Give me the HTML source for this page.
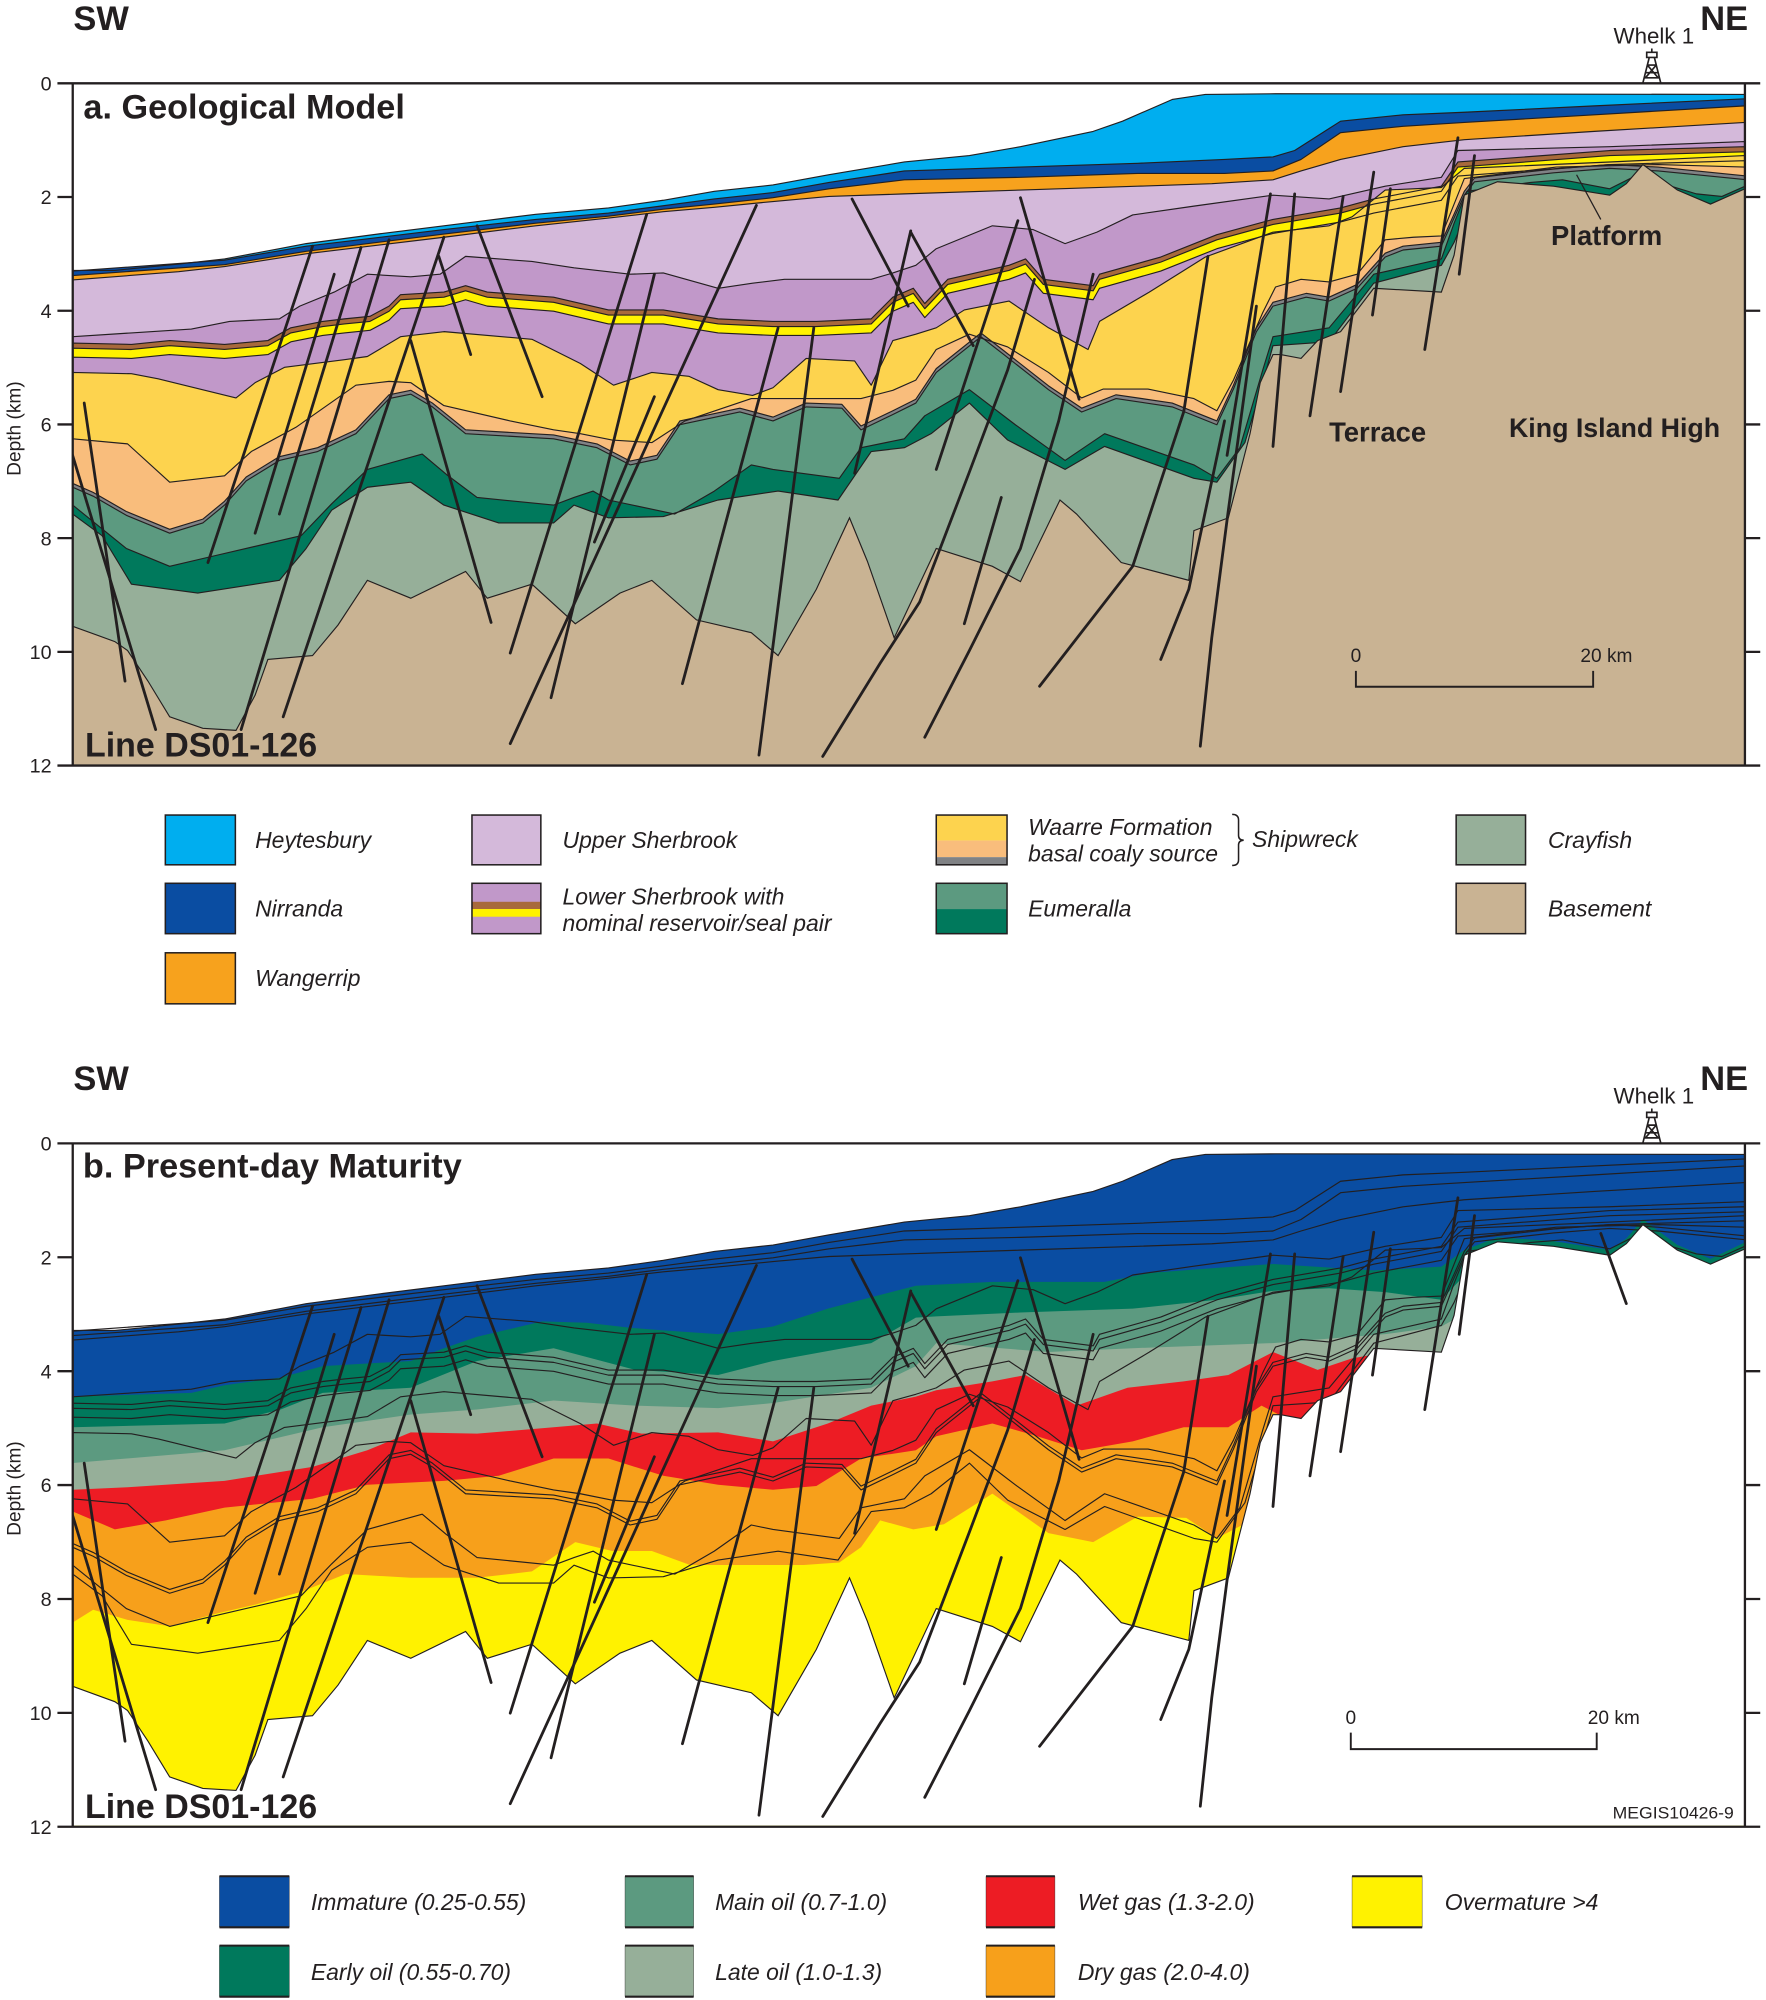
<!DOCTYPE html>
<html>
<head>
<meta charset="utf-8">
<style>
html,body{margin:0;padding:0;background:#fff;}
svg{display:block;}
.t{font-family:"Liberation Sans",Arial,sans-serif;fill:#231f20;}
.b{font-weight:bold;}
.i{font-style:italic;}
</style>
</head>
<body>
<svg xmlns="http://www.w3.org/2000/svg" width="1766" height="2000" viewBox="0 0 1384.5 1568">
<defs>
<clipPath id="clipA"><rect x="57" y="65.3" width="1311" height="534.9"/></clipPath>
<clipPath id="clipB"><rect x="57" y="896.4" width="1311" height="535.8"/></clipPath>
<path id="s0" d="M57,600.2 L57,212 L90,212 L110,210 L140,207 L176,203 L219,195 L240,191 L300,183 L348,177 L380,173 L420,168 L477,163 L520,157 L560,150 L606,145 L650,137 L709,127 L760,122 L800,115 L857,103 L880,95 L919,78 L945,74 L1000,73.5 L1368,74 L1368,600.2"/>
<path id="s1" d="M57,600.2 L57,212.5 L176,204 L240,193 L348,180 L420,172 L477,167 L560,156 L606,151 L650,143 L709,134 L800,131 L892,128 L960,125 L998,123 L1015,118 L1051,95 L1100,90 L1148,88 L1250,83 L1368,77.5 L1368,600.2"/>
<path id="s2" d="M57,600.2 L57,216 L176,207.5 L240,197 L348,183.5 L420,175 L477,169.5 L520,164 L560,160 L606,155 L650,148 L709,141 L800,139 L892,136 L960,136 L998,134 L1020,125 L1051,104 L1100,99 L1148,96 L1250,90 L1368,83 L1368,600.2"/>
<path id="s3" d="M57,600.2 L57,219.5 L140,213 L176,209 L240,199 L348,186 L420,177 L477,171 L520,166 L560,162.5 L606,158 L650,154 L709,152 L800,149 L892,146 L950,144 L998,141 L1020,134 L1051,125 L1100,115 L1148,109.5 L1250,103 L1368,96 L1368,600.2"/>
<path id="s4" d="M57,600.2 L57,264 L103,261 L150,258 L180,252 L219,250 L235,240 L262,229 L288,215 L322,217 L345,215 L365,201 L417,205 L450,210 L494,215 L520,214 L563,226 L590,222 L615,219 L683,219 L700,214 L718,208 L734,195 L778,177 L810,180 L835,191 L860,182 L888,168.5 L936,161.6 L998,153 L1042,156 L1086,146 L1130,139 L1143,118 L1262,115 L1368,111 L1368,600.2"/>
<path id="s5" d="M57,600.2 L57,269 L103,270 L133,267 L176,270 L210,267 L228,257 L253,252 L270,250 L290,248 L305,240 L314,231 L348,229 L365,224 L382,229 L434,233 L477,243 L520,243 L563,250 L606,252 L640,252 L683,250 L700,233 L716,226 L725,238 L743,219 L791,208 L804,203 L818,219 L857,224 L862,215 L910,201.5 L954,184 L998,172 L1051,163 L1077,156 L1130,146 L1143,127 L1262,118 L1368,115 L1368,600.2"/>
<path id="s6" d="M57,600.2 L57,292 L103,293 L124,297 L185,312 L200,300 L223,288 L270,282 L288,279.5 L314,264 L348,260 L417,266 L455,285 L481,302 L511,292 L540,295 L563,305.5 L590,310 L606,304 L632,281 L670,283 L683,302 L700,267 L718,262 L734,257 L756,243 L791,236 L822,257 L853,274 L862,252 L901,229 L945,201.5 L998,182 L1042,177 L1060,170 L1086,149 L1130,147 L1148,132 L1262,127 L1368,122 L1368,600.2"/>
<path id="s7" d="M57,600.2 L57,344 L100,348 L133,378 L176,373 L197,354 L232,335 L279,302 L305,299 L322,300 L348,318 L400,330 L434,337 L455,340 L480,345 L511,347 L537,330 L589,312.5 L640,312.5 L675,312.5 L700,306 L718,298 L734,274 L760,262 L790,272 L822,292 L848,312 L865,305 L900,305 L936,312.5 L954,322 L967,298 L990,245 L1000,225 L1020,219 L1042,221 L1064,215 L1086,188 L1108,186 L1130,185 L1148,140 L1220,131 L1300,129 L1368,131 L1368,600.2"/>
<path id="s9" d="M57,600.2 L57,382 L73,389 L99,404 L133,418 L159,410 L176,396 L193,377 L219,361 L249,354 L279,340 L305,312.5 L322,309 L339,319 L365,340 L434,344 L468,351 L494,364.5 L515,360 L533,333 L580,323 L606,330 L632,319 L660,320 L675,337 L700,325 L718,316 L734,292 L769,264 L787,278 L822,305.5 L848,323 L875,312.5 L919,319 L954,333 L967,305 L985,260 L998,240 L1024,233 L1042,236 L1064,226 L1086,201.5 L1100,196 L1130,193 L1148,153 L1156,142.5 L1218,135.5 L1262,132 L1300,134 L1368,140.8 L1368,600.2"/>
<path id="s10" d="M57,600.2 L57,396 L99,430 L133,444 L167,436 L236,420 L260,395 L288,368 L331,356 L350,372 L374,390 L434,396 L450,390 L465,385 L477,392 L529,403 L560,385 L589,364.5 L606,368 L658,375 L675,351 L709,344 L725,326 L760,305.5 L796,333 L835,361 L866,340 L936,364.5 L954,375 L972,351 L990,290 L998,264 L1042,257 L1077,215 L1130,203 L1140,175 L1150,150 L1200,143 L1225,141 L1262,148 L1280,139 L1290,132 L1310,146 L1330,152 L1350,154 L1368,146 L1368,600.2"/>
<path id="s11" d="M57,600.2 L57,403 L80,420 L103,458 L155,465 L219,455 L240,430 L260,400 L288,382 L322,378 L348,396 L391,410 L434,410 L450,396 L477,406 L520,405 L563,392 L610,385 L657,392 L683,354 L709,351 L730,340 L760,316 L790,345 L835,368 L866,350 L936,375 L954,378 L976,347 L990,300 L998,271 L1042,268 L1077,222 L1130,208 L1140,190 L1150,166 L1368,166 L1368,600.2"/>
<path id="s12" d="M57,600.2 L57,491 L90,503 L100,510 L116,534 L133,562 L159,571 L185,572.6 L200,545 L210,517 L245,514 L265,490 L288,455 L322,469 L365,448 L382,469 L417,458 L451,489 L486,465 L511,455 L546,486 L589,496 L610,514 L640,462 L666,406 L680,440 L701,500 L703,496 L734,430 L778,444 L800,456 L831,392 L844,403 L866,427 L879,441 L932,455 L936,416 L963,406 L980,340 L988,300 L998,278 L1004,278 L1020,281 L1033,267 L1051,260 L1077,226 L1130,229 L1140,200 L1148,153 L1174,142.5 L1218,146 L1262,153 L1275,144 L1288,129 L1315,149 L1341,160 L1368,148 L1368,600.2"/>
<g id="horiz" fill="none" stroke="#231f20" stroke-width="0.9" stroke-linejoin="round">
<use href="#s0"/><use href="#s1"/><use href="#s2"/><use href="#s3"/><use href="#s4"/>
<use href="#s5"/><use href="#s5" transform="translate(0,4)"/><use href="#s5" transform="translate(0,11)"/>
<use href="#s6"/><use href="#s7"/><use href="#s9" transform="translate(0,-3)"/><use href="#s9"/><use href="#s10"/><use href="#s11"/>
</g>
<g id="faults" fill="none" stroke="#231f20" stroke-width="2.2" stroke-linecap="round" stroke-linejoin="round">
<path d="M66,316 L98,534"/>
<path d="M56,354 L122,572"/>
<path d="M245,193 L163,441"/>
<path d="M262,215 L200,418"/>
<path d="M283,194 L219,403"/>
<path d="M305,188 L189,572"/>
<path d="M348,186 L222,562"/>
<path d="M344,201 L369,278"/>
<path d="M374,177 L425,311"/>
<path d="M322,267 L385,488"/>
<path d="M507,168 L400,512"/>
<path d="M513,215 L432,547"/>
<path d="M513,311 L466,425"/>
<path d="M593,161 L400,583"/>
<path d="M610,257 L535,536"/>
<path d="M638,257 L595,592"/>
<path d="M668,156 L712,240"/>
<path d="M714,181 L670,371"/>
<path d="M714,182 L763,271"/>
<path d="M798,173 L734,368"/>
<path d="M800,155 L846,313"/>
<path d="M811,219 L790,290 L760,370 L721,472 L690,520 L645,593"/>
<path d="M857,215 L830,330 L800,430 L760,510 L725,578"/>
<path d="M785,390 L756,489"/>
<path d="M947,201 L928,323 L888,444 L815,538"/>
<path d="M960,330 L932,462 L910,517"/>
<path d="M996,152 L962,357"/>
<path d="M1015,152 L998,350"/>
<path d="M985,240 L963,400 L950,500 L941,585"/>
<path d="M1053,154 L1027,326"/>
<path d="M1077,135 L1051,307"/>
<path d="M1090,148 L1076,247"/>
<path d="M1143,108 L1117,274"/>
<path d="M1156,122 L1144,215"/>
</g>
<g id="derrick" fill="none" stroke="#231f20" stroke-width="1.3">
<path d="M1288,65 L1293,45 M1302,65 L1297,45 M1291,45 H1299 V41 H1291 Z M1290,57 H1300 M1289.5,61 H1300.5 M1291.5,51 H1298.5 M1291.5,51 L1300,61 M1298.5,51 L1290,61 M1295,41 V38"/>
</g>
</defs>

<rect x="0" y="0" width="1384.5" height="1568" fill="#fff"/>

<!-- ========== PANEL A ========== -->
<g clip-path="url(#clipA)">
<use href="#s0" fill="#00aeef"/>
<use href="#s1" fill="#0a4da2"/>
<use href="#s2" fill="#f7a21d"/>
<use href="#s3" fill="#d4b9da"/>
<use href="#s4" fill="#c198c9"/>
<use href="#s5" fill="#a8693c"/>
<use href="#s5" fill="#fff200" transform="translate(0,4)"/>
<use href="#s5" fill="#c198c9" transform="translate(0,11)"/>
<use href="#s6" fill="#fdd34e"/>
<use href="#s7" fill="#f9bd7c"/>
<use href="#s9" fill="#808285" transform="translate(0,-3)"/>
<use href="#s9" fill="#5c9a80"/>
<use href="#s10" fill="#00795c"/>
<use href="#s11" fill="#96af99"/>
<use href="#horiz"/>
<use href="#s12" fill="#c9b393" stroke="#231f20" stroke-width="0.9"/>
<use href="#faults"/>
<path d="M1236,137 L1255,172" stroke="#231f20" stroke-width="1" fill="none"/>
</g>

<!-- ========== PANEL B ========== -->
<g clip-path="url(#clipB)">
<use href="#s0" fill="#0a4da2" transform="translate(0,831.1)"/>
<path fill="#00795c" d="M57,1095 L150,1092 L176,1086 L220,1080 L253,1071 L322,1067 L348,1057 L374,1048 L425,1036 L460,1037 L494,1041 L520,1043 L563,1046 L606,1040 L649,1026 L683,1017 L718,1008 L778,1005 L866,1005 L901,998 L954,994 L998,991 L1077,996 L1130,993 L1148,980 L1174,970 L1218,973 L1262,980 L1275,971 L1288,956 L1315,976 L1341,987 L1368,974 L1368,1433 L57,1433 Z"/>
<path fill="#5c9a80" d="M57,1119 L176,1116 L220,1105 L253,1092 L322,1088 L374,1067 L434,1057 L498,1074 L563,1078 L606,1067 L683,1053 L718,1033 L734,1032 L800,1029 L888,1026 L954,1019 L998,1012 L1042,1010 L1086,1013 L1130,1019 L1148,1000 L1368,1000 L1368,1433 L57,1433 Z"/>
<path fill="#96af99" d="M57,1147 L176,1137 L253,1119 L322,1109 L374,1105 L434,1098 L498,1102 L563,1104 L606,1100 L683,1088 L718,1071 L734,1053 L822,1060 L888,1057 L998,1053 L1086,1046 L1130,1040 L1148,1030 L1368,1030 L1368,1433 L57,1433 Z"/>
<path fill="#ed1c24" d="M57,1168 L100,1166 L176,1161 L245,1150 L288,1137 L322,1123 L374,1124 L434,1119 L468,1116 L503,1124 L563,1123 L606,1130 L649,1116 L683,1102 L718,1095 L734,1090 L778,1083 L804,1078 L844,1102 L884,1088 L928,1083 L963,1078 L998,1060 L1033,1074 L1060,1065 L1077,1062 L1090,1080 L1368,1080 L1368,1433 L57,1433 Z"/>
<path fill="#f7a01b" d="M57,1185 L90,1199 L130,1192 L176,1182 L245,1175 L288,1164 L348,1161 L391,1157 L434,1143.5 L477,1143.5 L520,1157 L563,1164 L606,1168 L640,1165 L675,1143.5 L718,1137 L734,1126 L778,1116 L810,1125 L848,1137 L888,1130 L928,1119 L963,1119 L989,1102 L1016,1116 L1040,1108 L1055,1098 L1080,1110 L1368,1110 L1368,1433 L57,1433 Z"/>
<path fill="#fff200" d="M57,1272 L73,1262 L100,1270 L133,1275 L170,1265 L200,1258 L236,1248 L271,1234 L322,1237 L374,1237 L417,1232 L451,1209 L480,1216 L511,1216 L541,1227 L589,1227 L630,1227 L658,1225 L675,1213 L690,1192 L716,1199 L740,1195 L778,1171 L822,1202 L857,1209 L892,1189 L930,1190 L954,1206 L975,1195 L990,1180 L1010,1200 L1368,1200 L1368,1433 L57,1433 Z"/>
<use href="#horiz" transform="translate(0,831.1)"/>
<use href="#s12" fill="#fff" stroke="#231f20" stroke-width="0.9" transform="translate(0,831.1)"/>
<use href="#faults" transform="translate(0,831.1)"/>
<path d="M1255,967 L1275,1022" stroke="#231f20" stroke-width="2.2" stroke-linecap="round" fill="none"/>
</g>

<!-- ========== FRAMES & TICKS ========== -->
<g fill="none" stroke="#231f20" stroke-width="1.8">
<path d="M45,65.3 H1380 M57,65.3 V600.2 M1368,65.3 V600.2 M45,600.2 H1380"/>
<path d="M45,154.45 H57 M45,243.6 H57 M45,332.75 H57 M45,421.9 H57 M45,511.05 H57"/>
<path d="M1368,154.45 H1380 M1368,243.6 H1380 M1368,332.75 H1380 M1368,421.9 H1380 M1368,511.05 H1380"/>
<path d="M45,896.4 H1380 M57,896.4 V1432.2 M1368,896.4 V1432.2 M45,1432.2 H1380"/>
<path d="M45,985.7 H57 M45,1075 H57 M45,1164.3 H57 M45,1253.6 H57 M45,1342.9 H57"/>
<path d="M1368,985.7 H1380 M1368,1075 H1380 M1368,1164.3 H1380 M1368,1253.6 H1380 M1368,1342.9 H1380"/>
</g>

<g class="t" font-size="15.5" text-anchor="end">
<text x="40.5" y="70.9">0</text>
<text x="40.5" y="160">2</text>
<text x="40.5" y="249.2">4</text>
<text x="40.5" y="338.3">6</text>
<text x="40.5" y="427.5">8</text>
<text x="40.5" y="516.6">10</text>
<text x="40.5" y="605.8">12</text>
<text x="40.5" y="902">0</text>
<text x="40.5" y="991.3">2</text>
<text x="40.5" y="1080.6">4</text>
<text x="40.5" y="1169.9">6</text>
<text x="40.5" y="1259.2">8</text>
<text x="40.5" y="1348.5">10</text>
<text x="40.5" y="1437.8">12</text>
</g>
<text class="t" font-size="15" text-anchor="middle" transform="translate(16,336) rotate(-90)">Depth (km)</text>
<text class="t" font-size="15" text-anchor="middle" transform="translate(16,1167) rotate(-90)">Depth (km)</text>

<!-- headers -->
<text class="t b" x="57.5" y="23.5" font-size="27">SW</text>
<text class="t b" x="1333" y="23.5" font-size="27">NE</text>
<text class="t" x="1265" y="34" font-size="17.5">Whelk 1</text>
<use href="#derrick"/>
<text class="t b" x="57.5" y="854.6" font-size="27">SW</text>
<text class="t b" x="1333" y="854.6" font-size="27">NE</text>
<text class="t" x="1265" y="865" font-size="17.5">Whelk 1</text>
<use href="#derrick" transform="translate(0,831.1)"/>

<!-- titles -->
<text class="t b" x="65.4" y="93" font-size="27" textLength="252" lengthAdjust="spacingAndGlyphs">a. Geological Model</text>
<text class="t b" x="65" y="923" font-size="27" textLength="297" lengthAdjust="spacingAndGlyphs">b. Present-day Maturity</text>
<text class="t b" x="66.6" y="593" font-size="27" textLength="182" lengthAdjust="spacingAndGlyphs">Line DS01-126</text>
<text class="t b" x="66.6" y="1425.5" font-size="27" textLength="182" lengthAdjust="spacingAndGlyphs">Line DS01-126</text>

<!-- panel a labels -->
<text class="t b" x="1216" y="192" font-size="21.5">Platform</text>
<text class="t b" x="1042" y="346" font-size="21.5">Terrace</text>
<text class="t b" x="1183" y="342.5" font-size="21">King Island High</text>

<!-- scale bars -->
<text class="t" x="1063" y="519" font-size="15" text-anchor="middle">0</text>
<text class="t" x="1239" y="519" font-size="15">20 km</text>
<path d="M1063,526 V538.4 H1249 V526" fill="none" stroke="#231f20" stroke-width="1.5"/>
<text class="t" x="1059" y="1351.6" font-size="15" text-anchor="middle">0</text>
<text class="t" x="1244.8" y="1351.6" font-size="15">20 km</text>
<path d="M1059,1358.4 V1371.3 H1251.8 V1358.4" fill="none" stroke="#231f20" stroke-width="1.5"/>
<text class="t" x="1264.3" y="1425.6" font-size="13" textLength="95" lengthAdjust="spacingAndGlyphs">MEGIS10426-9</text>

<!-- ========== LEGEND A ========== -->
<g stroke="#231f20" stroke-width="1.2">
<rect x="129.6" y="639" width="54.9" height="39" fill="#00aeef"/>
<rect x="129.6" y="692.5" width="54.9" height="39.5" fill="#0a4da2"/>
<rect x="129.6" y="747" width="54.9" height="40" fill="#f7a21d"/>
<rect x="370" y="639" width="54" height="39" fill="#d4b9da"/>
</g>
<rect x="370" y="692.5" width="54" height="39.5" fill="#c198c9"/>
<rect x="370" y="707" width="54" height="5.7" fill="#a8693c"/>
<rect x="370" y="712.7" width="54" height="6" fill="#fff200"/>
<rect x="370" y="692.5" width="54" height="39.5" fill="none" stroke="#231f20" stroke-width="1.2"/>
<rect x="734" y="639" width="55.5" height="20" fill="#fdd34e"/>
<rect x="734" y="659" width="55.5" height="13" fill="#f9bd7c"/>
<rect x="734" y="672" width="55.5" height="6" fill="#808285"/>
<rect x="734" y="639" width="55.5" height="39" fill="none" stroke="#231f20" stroke-width="1.2"/>
<rect x="734" y="692.5" width="55.5" height="20.2" fill="#5c9a80"/>
<rect x="734" y="712.7" width="55.5" height="19.3" fill="#00795c"/>
<rect x="734" y="692.5" width="55.5" height="39.5" fill="none" stroke="#231f20" stroke-width="1.2"/>
<g stroke="#231f20" stroke-width="1.2">
<rect x="1141.6" y="639" width="54.4" height="39" fill="#96af99"/>
<rect x="1141.6" y="692.5" width="54.4" height="39.5" fill="#c9b393"/>
</g>
<path d="M966,638.5 Q971,638.5 971,643 L971,655 Q971,658.5 975,658.7 Q971,659 971,662.5 L971,674 Q971,678.5 966,678.5" fill="none" stroke="#231f20" stroke-width="1.2"/>

<g class="t i" font-size="18">
<text x="200" y="665">Heytesbury</text>
<text x="200" y="718.5">Nirranda</text>
<text x="200" y="773">Wangerrip</text>
<text x="441" y="665">Upper Sherbrook</text>
<text x="441" y="709">Lower Sherbrook with</text>
<text x="441" y="730">nominal reservoir/seal pair</text>
<text x="806" y="654.7">Waarre Formation</text>
<text x="806" y="675.5">basal coaly source</text>
<text x="981.6" y="664">Shipwreck</text>
<text x="806" y="718.5">Eumeralla</text>
<text x="1213.6" y="665">Crayfish</text>
<text x="1213.6" y="718.5">Basement</text>
</g>

<!-- ========== LEGEND B ========== -->
<g>
<rect x="172" y="1471" width="54.8" height="40" fill="#0a4da2"/>
<rect x="172" y="1525.4" width="54.8" height="40" fill="#00795c"/>
<rect x="490" y="1471" width="53.8" height="40" fill="#5c9a80"/>
<rect x="490" y="1525.4" width="53.8" height="40" fill="#96af99"/>
<rect x="773" y="1471" width="54" height="40" fill="#ed1c24"/>
<rect x="773" y="1525.4" width="54" height="40" fill="#f7a01b"/>
<rect x="1060" y="1471" width="55" height="40" fill="#fff200"/>
</g>
<g stroke="#231f20" stroke-width="1.6" fill="none">
<path d="M172,1471 H226.8 M172,1511 H226.8 M172,1525.4 H226.8 M172,1565.4 H226.8"/>
<path d="M490,1471 H543.8 M490,1511 H543.8 M490,1525.4 H543.8 M490,1565.4 H543.8"/>
<path d="M773,1471 H827 M773,1511 H827 M773,1525.4 H827 M773,1565.4 H827"/>
<path d="M1060,1471 H1115 M1060,1511 H1115"/>
</g>
<g stroke="#231f20" stroke-width="0.5" fill="none" opacity="0.6">
<path d="M172,1471 V1511 M226.8,1471 V1511 M172,1525.4 V1565.4 M226.8,1525.4 V1565.4"/>
<path d="M490,1471 V1511 M543.8,1471 V1511 M490,1525.4 V1565.4 M543.8,1525.4 V1565.4"/>
<path d="M773,1471 V1511 M827,1471 V1511 M773,1525.4 V1565.4 M827,1525.4 V1565.4"/>
<path d="M1060,1471 V1511 M1115,1471 V1511"/>
</g>
<g class="t i" font-size="18">
<text x="243.7" y="1497.5">Immature (0.25-0.55)</text>
<text x="243.7" y="1552.4">Early oil (0.55-0.70)</text>
<text x="560.6" y="1497.5">Main oil (0.7-1.0)</text>
<text x="560.6" y="1552.4">Late oil (1.0-1.3)</text>
<text x="845" y="1497.5">Wet gas (1.3-2.0)</text>
<text x="845" y="1552.4">Dry gas (2.0-4.0)</text>
<text x="1132.7" y="1497.5">Overmature &gt;4</text>
</g>
</svg>
</body>
</html>
